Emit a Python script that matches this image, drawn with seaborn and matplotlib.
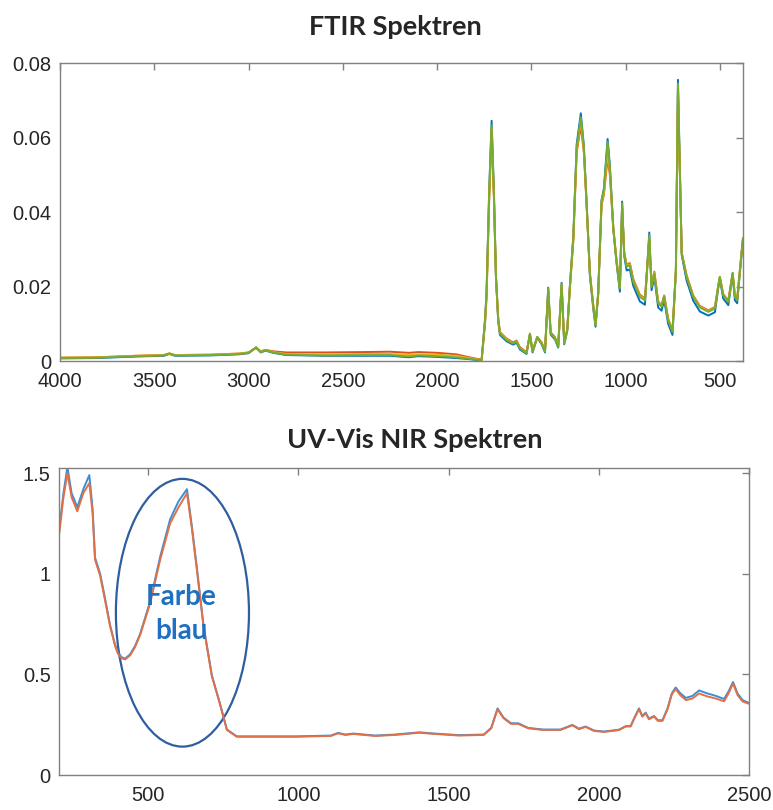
import numpy as np
import pandas as pd
import matplotlib
matplotlib.use('Agg')
import matplotlib.pyplot as plt
import seaborn as sns
from matplotlib.patches import Ellipse

# FTIR: wavenumber (cm-1) and absorbance of the samples
wavenumber = [4000, 3800, 3600, 3450, 3420, 3390, 3200, 3050, 3000, 2960,
              2935, 2910, 2870, 2800, 2600, 2400, 2250, 2150, 2100, 2000,
              1900, 1830, 1780, 1764, 1746, 1738, 1724, 1711, 1699, 1688,
              1676, 1667, 1632, 1597, 1579, 1561, 1526, 1508, 1494, 1469,
              1446, 1428, 1411, 1398, 1375, 1358, 1340, 1326, 1310, 1296,
              1278, 1260, 1238, 1222, 1208, 1190, 1172, 1160, 1146, 1128,
              1116, 1096, 1084, 1066, 1049, 1031, 1019, 1008, 995, 978,
              960, 925, 898, 875, 863, 848, 828, 810, 796, 775,
              752, 734, 723, 703, 677, 642, 607, 562, 527, 510,
              501, 483, 456, 433, 421, 409, 386, 378]

ftir_blue = [.0007, .0008, .0012, .0014, .0019, .0014, .0015, .0018, .0021, .0036,
             .0023, .0028, .0022, .0016, .0014, .0014, .0014, .0010, .0013, .0011,
             .0008, .0005, .0002, .0002, .0112, .0185, .0460, .0645, .0455, .0225,
             .0105, .0070, .0053, .0044, .0049, .0031, .0019, .0072, .0023, .0063,
             .0045, .0023, .0197, .0071, .0058, .0036, .0210, .0045, .0081, .0202,
             .0334, .0582, .0665, .0578, .0430, .0230, .0140, .0092, .0178, .0432,
             .0462, .0596, .0524, .0356, .0264, .0186, .0428, .0282, .0243, .0246,
             .0202, .0160, .0151, .0345, .0190, .0226, .0144, .0135, .0164, .0100,
             .0070, .0240, .0755, .0284, .0216, .0162, .0133, .0122, .0131, .0193,
             .0221, .0168, .0150, .0232, .0163, .0155, .0285, .0328]

ftir_orange = [.0009, .0010, .0014, .0016, .0020, .0016, .0017, .0020, .0023, .0035,
               .0026, .0030, .0026, .0023, .0023, .0024, .0025, .0022, .0024, .0022,
               .0018, .0010, .0005, .0004, .0100, .0170, .0430, .0615, .0440, .0225,
               .0115, .0078, .0060, .0050, .0055, .0037, .0024, .0070, .0028, .0064,
               .0050, .0029, .0188, .0077, .0064, .0042, .0200, .0052, .0086, .0196,
               .0322, .0560, .0632, .0560, .0425, .0236, .0150, .0100, .0182, .0420,
               .0445, .0545, .0500, .0355, .0272, .0200, .0410, .0292, .0258, .0263,
               .0220, .0178, .0168, .0325, .0205, .0240, .0160, .0150, .0176, .0114,
               .0082, .0242, .0720, .0290, .0230, .0176, .0148, .0136, .0145, .0200,
               .0225, .0180, .0162, .0235, .0176, .0168, .0288, .0330]

ftir_yellow = [.0009, .0010, .0014, .0016, .0021, .0016, .0017, .0020, .0023, .0036,
               .0025, .0030, .0024, .0019, .0018, .0019, .0019, .0016, .0018, .0017,
               .0014, .0008, .0004, .0003, .0105, .0175, .0440, .0625, .0445, .0226,
               .0112, .0076, .0058, .0048, .0053, .0035, .0022, .0072, .0026, .0064,
               .0048, .0027, .0190, .0075, .0062, .0040, .0204, .0049, .0084, .0198,
               .0326, .0566, .0645, .0568, .0428, .0236, .0148, .0098, .0181, .0425,
               .0450, .0560, .0508, .0358, .0271, .0198, .0415, .0290, .0256, .0260,
               .0216, .0175, .0166, .0330, .0202, .0238, .0158, .0148, .0175, .0112,
               .0080, .0242, .0730, .0290, .0228, .0174, .0146, .0134, .0143, .0200,
               .0226, .0178, .0160, .0236, .0174, .0165, .0289, .0330]

ftir_green = [.0008, .0009, .0013, .0015, .0020, .0015, .0016, .0019, .0022, .0037,
              .0024, .0029, .0023, .0017, .0015, .0016, .0016, .0012, .0015, .0013,
              .0010, .0006, .0003, .0003, .0110, .0180, .0450, .0633, .0450, .0226,
              .0110, .0074, .0056, .0047, .0052, .0034, .0021, .0074, .0025, .0065,
              .0047, .0025, .0195, .0074, .0061, .0038, .0208, .0047, .0083, .0200,
              .0330, .0574, .0654, .0574, .0431, .0235, .0146, .0096, .0181, .0431,
              .0458, .0588, .0520, .0360, .0270, .0195, .0423, .0289, .0253, .0257,
              .0213, .0172, .0163, .0338, .0199, .0235, .0155, .0146, .0174, .0110,
              .0079, .0244, .0745, .0290, .0226, .0172, .0144, .0132, .0141, .0199,
              .0226, .0177, .0159, .0237, .0172, .0163, .0290, .0330]

# UV-Vis NIR: wavelength (nm) and absorbance
wavelength = [204, 217, 231, 245, 264, 284, 304, 315, 323, 340,
              356, 373, 390, 400, 412, 423, 440, 456, 473, 506,
              540, 573, 601, 629, 645, 662, 684, 712, 738, 762,
              795, 910, 992, 1108, 1132, 1157, 1182, 1256, 1321, 1403,
              1453, 1535, 1617, 1642, 1663, 1683, 1708, 1732, 1765, 1814,
              1873, 1912, 1934, 1956, 1984, 2017, 2067, 2090, 2106, 2120,
              2134, 2145, 2156, 2167, 2184, 2197, 2212, 2229, 2243, 2256,
              2271, 2290, 2312, 2334, 2362, 2390, 2417, 2432, 2447, 2462,
              2479, 2500]

uv_blue = [1.22, 1.39, 1.53, 1.40, 1.33, 1.42, 1.49, 1.32, 1.08, 1.00,
           0.88, 0.745, 0.645, 0.605, 0.585, 0.578, 0.60, 0.64, 0.70, 0.86,
           1.085, 1.27, 1.36, 1.42, 1.24, 1.03, 0.745, 0.495, 0.36, 0.226,
           0.192, 0.192, 0.192, 0.196, 0.209, 0.201, 0.206, 0.196, 0.201, 0.212,
           0.206, 0.198, 0.201, 0.234, 0.331, 0.285, 0.257, 0.257, 0.234, 0.226,
           0.226, 0.249, 0.230, 0.241, 0.221, 0.216, 0.225, 0.243, 0.243, 0.289,
           0.331, 0.293, 0.310, 0.280, 0.293, 0.272, 0.272, 0.331, 0.405, 0.435,
           0.407, 0.383, 0.393, 0.420, 0.405, 0.393, 0.378, 0.415, 0.462, 0.405,
           0.372, 0.358]

uv_orange = [1.20, 1.37, 1.50, 1.38, 1.31, 1.40, 1.45, 1.30, 1.07, 0.99,
             0.87, 0.74, 0.64, 0.60, 0.58, 0.574, 0.595, 0.635, 0.695, 0.85,
             1.07, 1.25, 1.33, 1.40, 1.23, 1.02, 0.74, 0.49, 0.357, 0.224,
             0.19, 0.19, 0.19, 0.194, 0.207, 0.199, 0.204, 0.194, 0.199, 0.210,
             0.204, 0.196, 0.199, 0.232, 0.327, 0.282, 0.254, 0.254, 0.232, 0.224,
             0.224, 0.247, 0.228, 0.239, 0.219, 0.214, 0.223, 0.241, 0.241, 0.286,
             0.327, 0.290, 0.307, 0.277, 0.290, 0.269, 0.269, 0.327, 0.400, 0.427,
             0.397, 0.372, 0.380, 0.405, 0.390, 0.380, 0.366, 0.405, 0.455, 0.397,
             0.365, 0.354]

ftir_xticks = [4000, 3500, 3000, 2500, 2000, 1500, 1000, 500]
ftir_yticks = [0, 0.02, 0.04, 0.06, 0.08]
ftir_ylabels = ['0', '0.02', '0.04', '0.06', '0.08']
uv_xticks = [500, 1000, 1500, 2000, 2500]
uv_yticks = [0, 0.5, 1, 1.5]
uv_ylabels = ['0', '0.5', '1', '1.5']

sns.set_theme(style='white')
plt.rcParams['font.family'] = ['Liberation Sans', 'DejaVu Sans']

ftir_df = pd.DataFrame({
    'wn': wavenumber * 4,
    'abs': ftir_blue + ftir_orange + ftir_yellow + ftir_green,
    'probe': ['P1'] * len(wavenumber) + ['P2'] * len(wavenumber)
             + ['P3'] * len(wavenumber) + ['P4'] * len(wavenumber),
})
uv_df = pd.DataFrame({
    'nm': wavelength * 2,
    'abs': uv_blue + uv_orange,
    'probe': ['P1'] * len(wavelength) + ['P2'] * len(wavelength),
})

fig = plt.figure(figsize=(7.73, 8.10), dpi=100)
ax1 = fig.add_axes([0.0776, 0.5543, 0.8836, 0.3679])
ax2 = fig.add_axes([0.0763, 0.0432, 0.8926, 0.379])

sns.lineplot(data=ftir_df, x='wn', y='abs', hue='probe', sort=False, estimator=None,
             palette=['#0072BD', '#D95319', '#EDB120', '#77AC30'],
             linewidth=1.4, legend=False, ax=ax1)
sns.lineplot(data=uv_df, x='nm', y='abs', hue='probe', sort=False, estimator=None,
             palette=['#3A8FD4', '#E07048'], linewidth=1.4, legend=False, ax=ax2)

ax1.set_xlim(4000, 378)
ax1.set_ylim(0, 0.08)
ax1.set_xticks(ftir_xticks)
ax1.set_yticks(ftir_yticks)
ax1.set_yticklabels(ftir_ylabels)

ax2.set_xlim(203, 2500)
ax2.set_ylim(0, 1.525)
ax2.set_xticks(uv_xticks)
ax2.set_yticks(uv_yticks)
ax2.set_yticklabels(uv_ylabels)

for ax in (ax1, ax2):
    ax.set_xlabel('')
    ax.set_ylabel('')
    ax.tick_params(direction='in', top=True, right=True, length=5, width=1,
                   color='#808080', labelsize=14.5, labelcolor='#262626')
    ax.tick_params(axis='x', pad=8)
    ax.tick_params(axis='y', pad=6)
    for s in ax.spines.values():
        s.set_color('#808080')
        s.set_linewidth(1)

# markierter Bereich im UV-Vis Spektrum
ax2.add_patch(Ellipse((614, 0.806), 443, 1.33, fill=False, edgecolor='#2F5E9E', linewidth=1.6))
ax2.text(611, 0.80, 'Farbe\nblau', ha='center', va='center', fontsize=20, fontweight='bold',
         color='#1F70C1', family=['Lato', 'DejaVu Sans'], linespacing=1.35)

fig.text(0.511, 0.9667, 'FTIR Spektren', ha='center', va='center', fontsize=19.5,
         fontweight='bold', family=['Lato', 'DejaVu Sans'])
fig.text(0.537, 0.457, 'UV-Vis NIR Spektren', ha='center', va='center', fontsize=19.5,
         fontweight='bold', family=['Lato', 'DejaVu Sans'])

fig.savefig('out.png', dpi=100)
